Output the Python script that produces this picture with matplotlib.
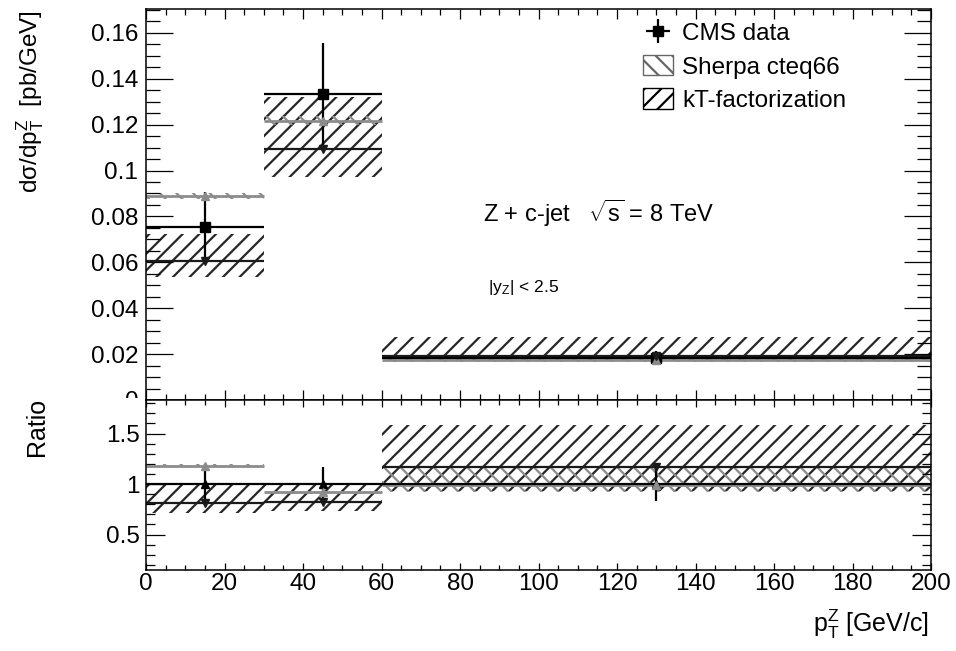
import numpy as np
import matplotlib
matplotlib.use('Agg')
import matplotlib.pyplot as plt
from matplotlib.patches import Patch, Rectangle
from matplotlib.ticker import MultipleLocator, FuncFormatter

plt.rcParams['font.family'] = ['Liberation Sans', 'DejaVu Sans']
plt.rcParams['mathtext.fontset'] = 'custom'
plt.rcParams['mathtext.rm'] = 'Liberation Sans'
plt.rcParams['mathtext.it'] = 'Liberation Sans:italic'
plt.rcParams['mathtext.bf'] = 'Liberation Sans:bold'
plt.rcParams['mathtext.default'] = 'regular'
plt.rcParams['hatch.linewidth'] = 1.6

# bins in pT(Z) [GeV/c]
bin_lo = np.array([0, 30, 60])
bin_hi = np.array([30, 60, 200])
bin_mid = np.array([15, 45, 130])

# CMS data
data_y = np.array([0.0752, 0.1335, 0.0183])
data_err_dn = np.array([0.0145, 0.0235, 0.0032])
data_err_up = np.array([0.0155, 0.0220, 0.0032])

# Sherpa cteq66
sherpa_y = np.array([0.0888, 0.1215, 0.0175])
sherpa_lo = np.array([0.0876, 0.1198, 0.0165])
sherpa_hi = np.array([0.0900, 0.1238, 0.0185])

# kT-factorization
kt_y = np.array([0.0606, 0.1095, 0.0191])
kt_lo = np.array([0.0535, 0.0974, 0.0172])
kt_hi = np.array([0.0722, 0.1322, 0.0274])

# ratio panel
rdata_y = np.array([1.0, 1.0, 1.0])
rdata_err_dn = np.array([0.20, 0.18, 0.17])
rdata_err_up = np.array([0.20, 0.17, 0.19])
rsherpa_y = np.array([1.18, 0.92, 0.99])
rsherpa_lo = np.array([1.165, 0.905, 0.92])
rsherpa_hi = np.array([1.195, 0.935, 1.17])
rkt_y = np.array([0.81, 0.82, 1.17])
rkt_lo = np.array([0.71, 0.73, 0.93])
rkt_hi = np.array([0.99, 0.99, 1.585])

GRAY = '0.55'

fig = plt.figure(figsize=(9.56, 6.51), dpi=100)
ax1 = fig.add_axes([146/956, 1-400/651, 785/956, 391/651])
ax2 = fig.add_axes([146/956, 1-570/651, 785/956, 170/651])

xerr = [bin_mid - bin_lo, bin_hi - bin_mid]
widths = bin_hi - bin_lo


def draw_panel(ax, d_y, d_dn, d_up, d_fmt, s_y, s_lo, s_hi, k_y, k_lo, k_hi):
    ax.bar(bin_lo, k_hi - k_lo, width=widths, bottom=k_lo, align='edge',
           facecolor='none', edgecolor='0.15', hatch='//', linewidth=0, zorder=1)
    ax.bar(bin_lo, s_hi - s_lo, width=widths, bottom=s_lo, align='edge',
           facecolor='none', edgecolor=GRAY, hatch='\\\\', linewidth=0, zorder=1)
    ax.hlines(s_y, bin_lo, bin_hi, color=GRAY, lw=2.0, zorder=2)
    ax.hlines(k_y, bin_lo, bin_hi, color='0.1', lw=1.6, zorder=2)
    h = ax.errorbar(bin_mid, d_y, xerr=xerr, yerr=[d_dn, d_up], fmt=d_fmt,
                    color='black', ms=7 if d_fmt == 's' else 6,
                    elinewidth=1.6, capsize=0, zorder=3)
    ax.plot(bin_mid, s_y, '^', color=GRAY, ms=6, zorder=4)
    ax.plot(bin_mid, k_y, 'v', color='0.1', ms=6, zorder=4)
    return h


h_data = draw_panel(ax1, data_y, data_err_dn, data_err_up, 's',
                    sherpa_y, sherpa_lo, sherpa_hi, kt_y, kt_lo, kt_hi)
draw_panel(ax2, rdata_y, rdata_err_dn, rdata_err_up, '^',
           rsherpa_y, rsherpa_lo, rsherpa_hi, rkt_y, rkt_lo, rkt_hi)

fmt = FuncFormatter(lambda v, p: '%g' % round(v, 6))

ax1.set_xlim(0, 200)
ax1.set_ylim(0, 0.1704)
ax1.xaxis.set_major_locator(MultipleLocator(20))
ax1.xaxis.set_minor_locator(MultipleLocator(5))
ax1.yaxis.set_major_locator(MultipleLocator(0.02))
ax1.yaxis.set_minor_locator(MultipleLocator(0.005))
ax1.yaxis.set_major_formatter(fmt)
ax1.tick_params(which='both', direction='in', top=True, right=True, width=0.9)
ax1.tick_params(axis='x', labelbottom=False)
ax1.tick_params(axis='x', which='major', length=7.2)
ax1.tick_params(axis='x', which='minor', length=4)
ax1.tick_params(axis='y', which='major', length=19.4, labelsize=17.5, pad=5.5)
ax1.tick_params(axis='y', which='minor', length=10)

ax2.set_xlim(0, 200)
ax2.set_ylim(0.149, 1.832)
ax2.xaxis.set_major_locator(MultipleLocator(20))
ax2.xaxis.set_minor_locator(MultipleLocator(5))
ax2.yaxis.set_major_locator(MultipleLocator(0.5))
ax2.yaxis.set_minor_locator(MultipleLocator(0.1))
ax2.xaxis.set_major_formatter(fmt)
ax2.yaxis.set_major_formatter(fmt)
ax2.tick_params(which='both', direction='in', top=True, right=True, width=0.9)
ax2.tick_params(axis='x', which='major', length=5, labelsize=17.5, pad=2)
ax2.tick_params(axis='x', which='minor', length=3.5)
ax2.tick_params(axis='y', which='major', length=13.7, labelsize=17.5, pad=4.3)
ax2.tick_params(axis='y', which='minor', length=6.5)

for ax in (ax1, ax2):
    for s in ax.spines.values():
        s.set_linewidth(1.1)

# hide the lower half of the "0" label, like the overlapping ratio pad
fig.add_artist(Rectangle((57/956, 1-412/651), 88/956, 14/651,
                         transform=fig.transFigure, facecolor='white',
                         edgecolor='none', zorder=5))

leg_handles = [h_data,
               Patch(facecolor='white', edgecolor='0.4', hatch='\\\\', lw=1),
               Patch(facecolor='white', edgecolor='black', hatch='//', lw=1)]
leg_labels = ['CMS data', 'Sherpa cteq66', 'kT-factorization']
ax1.legend(leg_handles, leg_labels, loc='upper left',
           bbox_to_anchor=(643/956, 1-22/651), bbox_transform=fig.transFigure,
           frameon=False, fontsize=17.5, handlelength=1.25, handleheight=0.9,
           handletextpad=0.35, labelspacing=0.4, borderpad=0, borderaxespad=0)

fig.text(483/956, 1-222/651, r'Z + c-jet   $\sqrt{s}$ = 8 TeV', fontsize=17,
         va='baseline')
fig.text(488/956, 1-292/651, r'|y$_Z$| < 2.5', fontsize=12.5, va='baseline')

fig.text(30/956, 1-10/651, r'dσ/dp$_T^Z$  [pb/GeV]', rotation=90,
         ha='center', va='top', fontsize=17.5)
fig.text(37/956, 1-398/651, 'Ratio', rotation=90, ha='center', va='top',
         fontsize=18)
fig.text(929/956, 1-632/651, r'p$_T^Z$ [GeV/c]', ha='right', va='baseline',
         fontsize=18)

fig.savefig('out.png', dpi=100)
